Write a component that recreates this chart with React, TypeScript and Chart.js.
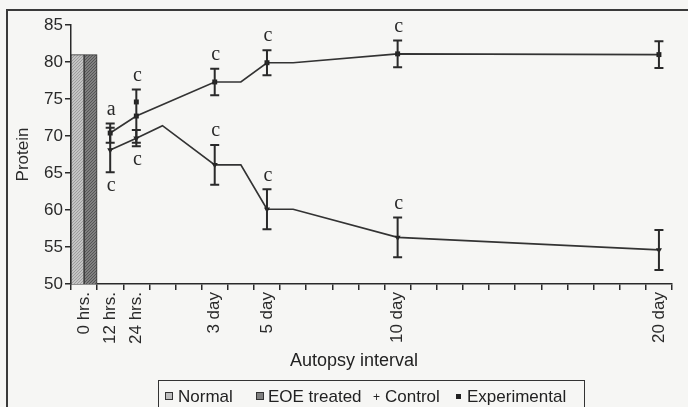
import React, { useEffect, useRef } from "react";
import { Chart, registerables } from "chart.js";

Chart.register(...registerables);

// ---------- data ----------
const categories = [
  "0 hrs.", "12 hrs.", "24 hrs.", "", "", "3 day", "", "5 day", "", "", "", "",
  "10 day", "", "", "", "", "", "", "", "", "", "20 day",
];

const normalValues = [81, null, null, null, null, null, null, null, null, null, null, null, null, null, null, null, null, null, null, null, null, null, null];
const eoeTreatedValues = [81, null, null, null, null, null, null, null, null, null, null, null, null, null, null, null, null, null, null, null, null, null, null];

const experimentalValues = [null, 70.4, 72.7, null, null, 77.3, 77.3, 79.9, 79.9, null, null, null, 81.1, null, null, null, null, null, null, null, null, null, 81.0];
const experimentalErrors = [null, 1.3, 3.6, null, null, 1.8, null, 1.7, null, null, null, null, 1.8, null, null, null, null, null, null, null, null, null, 1.8];
const experimentalLetters = [null, "a", "c", null, null, "c", null, "c", null, null, null, null, "c", null, null, null, null, null, null, null, null, null, null];
const experimentalLetterSide = [null, "above", "above", null, null, "above", null, "above", null, null, null, null, "above", null, null, null, null, null, null, null, null, null, null];
const experimentalExtraMark = [null, null, 74.6, null, null, null, null, null, null, null, null, null, null, null, null, null, null, null, null, null, null, null, null];

const controlValues = [null, 68.1, 69.7, 71.4, null, 66.1, 66.1, 60.1, 60.1, null, null, null, 56.3, null, null, null, null, null, null, null, null, null, 54.6];
const controlErrors = [null, 3.0, 1.1, null, null, 2.7, null, 2.7, null, null, null, null, 2.7, null, null, null, null, null, null, null, null, null, 2.7];
const controlLetters = [null, "c", "c", null, null, "c", null, "c", null, null, null, null, "c", null, null, null, null, null, null, null, null, null, null];
const controlLetterSide = [null, "below", "below", null, null, "above", null, "above", null, null, null, null, "above", null, null, null, null, null, null, null, null, null, null];

const yTicks = { min: 50, max: 85, step: 5 };

// ---------- styling ----------
const BG = "#f6f6f4";
const INK = "#2a2a2a";
const FONT = "'Liberation Sans', Arial, sans-serif";

function makePattern(base: string, dot: string): CanvasPattern | string {
  const c = document.createElement("canvas");
  c.width = 3;
  c.height = 3;
  const g = c.getContext("2d");
  if (!g) return base;
  g.fillStyle = base;
  g.fillRect(0, 0, 3, 3);
  g.fillStyle = dot;
  g.fillRect(0, 0, 1, 1);
  g.fillRect(2, 1, 1, 1);
  g.fillRect(1, 2, 1, 1);
  const p = g.createPattern(c, "repeat");
  return p || base;
}

const errorBarPlugin = {
  id: "errorBarsAndLetters",
  afterDatasetsDraw(chart: any) {
    const { ctx } = chart;
    const y = chart.scales.y;
    chart.data.datasets.forEach((ds: any, di: number) => {
      const errs = ds.errors as (number | null)[] | undefined;
      if (!errs) return;
      const meta = chart.getDatasetMeta(di);
      ctx.save();
      ctx.strokeStyle = INK;
      ctx.lineWidth = 2;
      errs.forEach((e, i) => {
        const v = ds.data[i];
        if (e == null || v == null) return;
        const el = meta.data[i];
        if (!el) return;
        const x = el.x;
        const t = y.getPixelForValue(v + e);
        const b = y.getPixelForValue(v - e);
        ctx.beginPath();
        ctx.moveTo(x, t);
        ctx.lineTo(x, b);
        ctx.moveTo(x - 4.5, t);
        ctx.lineTo(x + 4.5, t);
        ctx.moveTo(x - 4.5, b);
        ctx.lineTo(x + 4.5, b);
        ctx.stroke();
        const letter = ds.letters ? ds.letters[i] : null;
        if (letter) {
          ctx.fillStyle = INK;
          ctx.font = "20px 'Liberation Serif', 'Times New Roman', serif";
          ctx.textAlign = "center";
          ctx.textBaseline = "middle";
          const side = ds.letterSide ? ds.letterSide[i] : "above";
          const ly = side === "below" ? b + 13 : t - 14;
          ctx.fillText(letter, x + 1, ly);
        }
      });
      ctx.restore();
    });
  },
};

export default function App() {
  const canvasRef = useRef<HTMLCanvasElement | null>(null);

  useEffect(() => {
    if (!canvasRef.current) return;
    const normalFill = makePattern("#c4c4c4", "#9c9c9c");
    const eoeFill = makePattern("#808080", "#555555");

    const radiusFrom = (errs: (number | null)[], r: number) => errs.map((e) => (e == null ? 0 : r));

    const chart = new Chart(canvasRef.current, {
      type: "bar",
      data: {
        labels: categories,
        datasets: [
          {
            type: "bar",
            label: "Normal",
            data: normalValues,
            backgroundColor: normalFill as any,
            borderColor: "#333",
            borderWidth: 1,
            categoryPercentage: 1,
            barPercentage: 1,
            order: 3,
          },
          {
            type: "bar",
            label: "EOE treated",
            data: eoeTreatedValues,
            backgroundColor: eoeFill as any,
            borderColor: "#333",
            borderWidth: 1,
            categoryPercentage: 1,
            barPercentage: 1,
            order: 3,
          },
          {
            type: "line",
            label: "Control",
            data: controlValues,
            borderColor: "#333",
            borderWidth: 1.7,
            backgroundColor: "#222",
            pointStyle: "triangle",
            rotation: 180,
            pointRadius: radiusFrom(controlErrors, 3.5),
            pointBorderWidth: 0,
            spanGaps: true,
            tension: 0,
            order: 1,
            errors: controlErrors,
            letters: controlLetters,
            letterSide: controlLetterSide,
          } as any,
          {
            type: "line",
            label: "Experimental",
            data: experimentalValues,
            borderColor: "#333",
            borderWidth: 1.7,
            backgroundColor: "#222",
            pointStyle: "rect",
            pointRadius: radiusFrom(experimentalErrors, 3.5),
            pointBorderWidth: 0,
            spanGaps: true,
            tension: 0,
            order: 1,
            errors: experimentalErrors,
            letters: experimentalLetters,
            letterSide: experimentalLetterSide,
          } as any,
          {
            type: "line",
            label: "Experimental mark",
            data: experimentalExtraMark,
            showLine: false,
            backgroundColor: "#222",
            borderColor: "#222",
            pointStyle: "rect",
            pointRadius: 3.5,
            pointBorderWidth: 0,
            order: 0,
          } as any,
        ],
      },
      options: {
        animation: false,
        responsive: true,
        maintainAspectRatio: false,
        layout: { padding: { left: 8, top: 25, right: 16, bottom: 0 } },
        plugins: {
          legend: { display: false },
          tooltip: { enabled: false },
        },
        scales: {
          x: {
            type: "category",
            offset: true,
            grid: {
              offset: true,
              drawOnChartArea: false,
              drawTicks: true,
              tickLength: 6,
              color: INK,
              lineWidth: 1.5,
            },
            border: { display: true, color: INK, width: 1.5 },
            ticks: {
              autoSkip: false,
              minRotation: 90,
              maxRotation: 90,
              padding: 2,
              color: INK,
              font: { family: FONT, size: 17 },
            },
            afterFit: (scale: any) => {
              scale.height = 123;
            },
          },
          y: {
            min: yTicks.min,
            max: yTicks.max,
            grid: {
              drawOnChartArea: false,
              drawTicks: true,
              tickLength: 6,
              color: INK,
              lineWidth: 1.5,
            },
            border: { display: true, color: INK, width: 1.5 },
            ticks: {
              stepSize: yTicks.step,
              padding: 2,
              color: INK,
              font: { family: FONT, size: 17 },
            },
            title: {
              display: true,
              text: "Protein",
              color: INK,
              font: { family: FONT, size: 17 },
              padding: { top: 5, bottom: 0 },
            },
            afterFit: (scale: any) => {
              scale.width = 63;
            },
          },
        },
      },
      plugins: [errorBarPlugin],
    });
    return () => chart.destroy();
  }, []);

  const textStyle: React.CSSProperties = {
    position: "absolute",
    top: 387,
    fontFamily: FONT,
    fontSize: 17,
    lineHeight: "20px",
    color: "#222",
    whiteSpace: "nowrap",
  };
  const swatch = (left: number, bg: string): React.CSSProperties => ({
    position: "absolute",
    left,
    top: 392,
    width: 8,
    height: 8,
    border: "1px solid #333",
    background: bg,
    boxSizing: "border-box",
  });

  return (
    <div
      style={{
        position: "fixed",
        left: 0,
        top: 0,
        width: 688,
        height: 407,
        overflow: "hidden",
        background: BG,
      }}
    >
      <div
        style={{
          position: "absolute",
          left: 6,
          top: 9,
          width: 700,
          height: 420,
          borderTop: "2px solid #3a3a3a",
          borderLeft: "2px solid #3a3a3a",
          boxSizing: "border-box",
        }}
      />
      <div style={{ position: "absolute", left: 0, top: 0, width: 688, height: 407 }}>
        <canvas ref={canvasRef} />
      </div>
      <div
        style={{
          position: "absolute",
          left: 254,
          width: 200,
          textAlign: "center",
          top: 349,
          fontFamily: FONT,
          fontSize: 18,
          lineHeight: "22px",
          color: "#222",
        }}
      >
        Autopsy interval
      </div>
      <div
        style={{
          position: "absolute",
          left: 158,
          top: 380,
          width: 427,
          height: 40,
          border: "1.5px solid #333",
          boxSizing: "border-box",
        }}
      />
      <div style={swatch(165, "#bdbdbd")} />
      <div style={{ ...textStyle, left: 178 }}>Normal</div>
      <div style={swatch(256, "#7f7f7f")} />
      <div style={{ ...textStyle, left: 268 }}>EOE treated</div>
      <div style={{ ...textStyle, left: 373, fontSize: 12 }}>+</div>
      <div style={{ ...textStyle, left: 385 }}>Control</div>
      <div
        style={{
          position: "absolute",
          left: 456,
          top: 394,
          width: 5,
          height: 5,
          background: "#222",
        }}
      />
      <div style={{ ...textStyle, left: 467 }}>Experimental</div>
    </div>
  );
}
